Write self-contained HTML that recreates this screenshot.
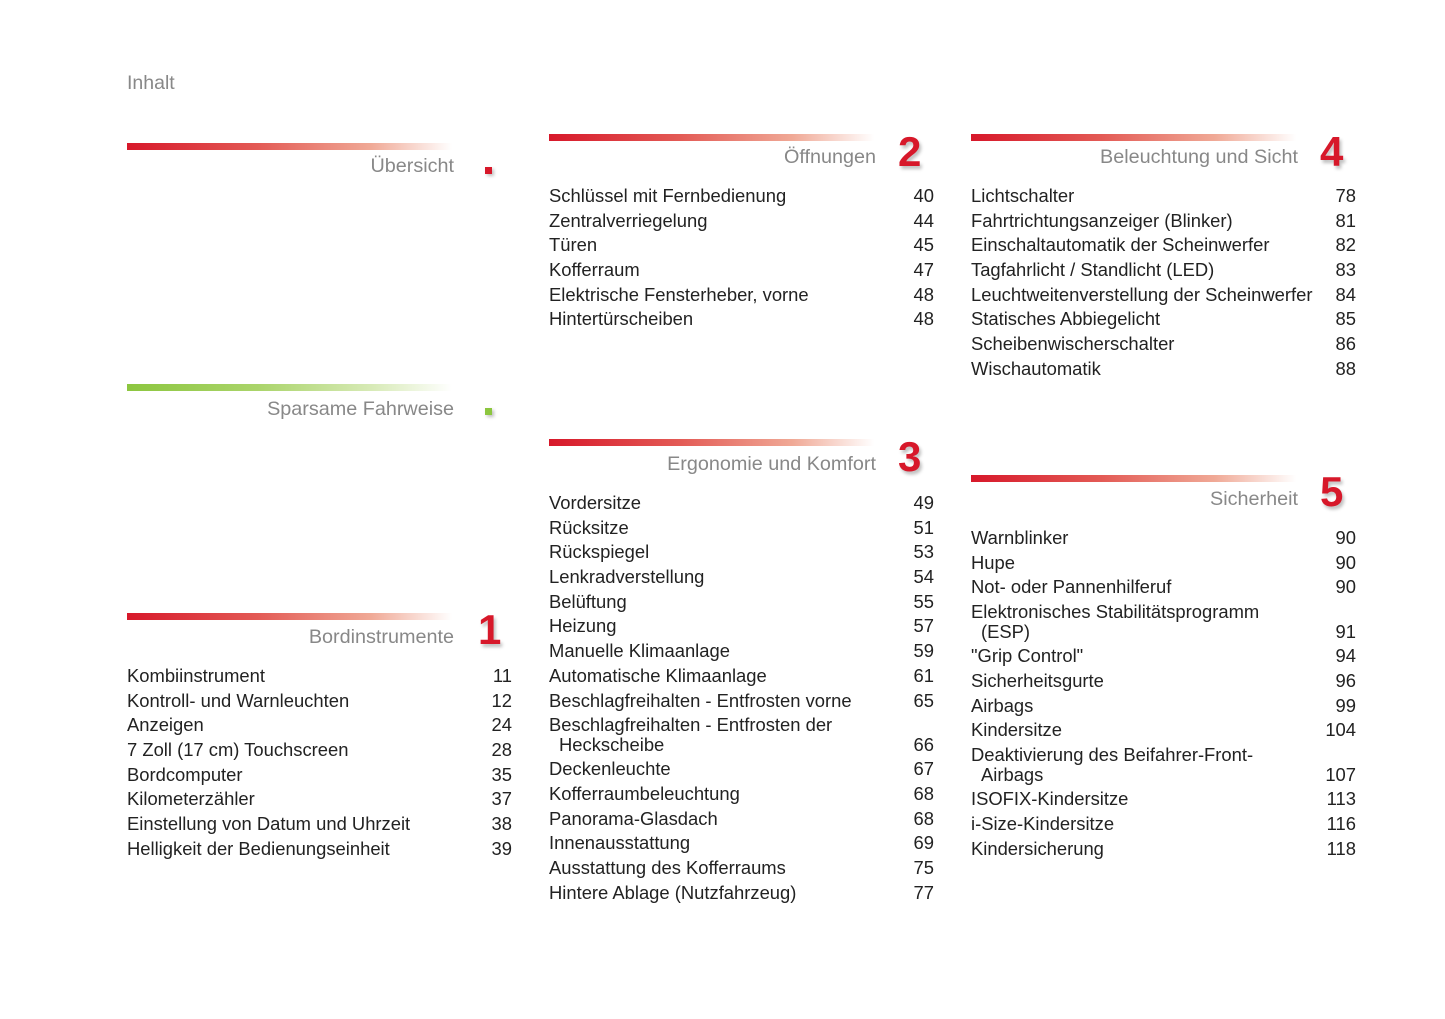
<!DOCTYPE html>
<html><head><meta charset="utf-8"><style>
body{margin:0;width:1445px;height:1019px;background:#fff;position:relative;font-family:"Liberation Sans",Arial,sans-serif;overflow:hidden}
.t{position:absolute;left:127px;top:72px;font-size:19.5px;color:#888}
.bar{position:absolute;height:7px;width:325px;background:linear-gradient(90deg,#d7182a 0%,#e35a55 40%,#f0a996 75%,rgba(255,255,255,0) 100%)}
.bar.g{background:linear-gradient(90deg,#8cc63f 0%,#aad46a 40%,#d7eab6 75%,rgba(255,255,255,0) 100%)}
.h{position:absolute;font-size:19.8px;color:#888;text-align:right;width:330px}
.n{position:absolute;font-size:42px;font-weight:bold;color:#d7182a;text-shadow:2px 3px 3px rgba(0,0,0,.25)}
.sq{position:absolute;width:7px;height:7px;box-shadow:2px 2px 3px rgba(0,0,0,.25)}
.list{position:absolute;width:385px;font-size:18.4px;color:#222}
.e{position:relative;line-height:19.5px;margin-bottom:5.2px;white-space:nowrap}
.e span{position:absolute;right:0;bottom:0}
.e i{font-style:normal;padding-left:10px}
</style></head><body>
<div class="t">Inhalt</div>

<div class="bar" style="left:127px;top:143px"></div>
<div class="h" style="left:124px;top:155px">Übersicht</div>
<div class="sq" style="left:485px;top:167px;background:#d7182a"></div>

<div class="bar g" style="left:127px;top:384px"></div>
<div class="h" style="left:124px;top:398px">Sparsame Fahrweise</div>
<div class="sq" style="left:485px;top:408px;background:#8cc63f"></div>

<div class="bar" style="left:127px;top:613px"></div>
<div class="h" style="left:124px;top:626px">Bordinstrumente</div>
<div class="n" style="left:478px;top:606px">1</div>
<div class="list" style="left:127px;top:666px">
<div class="e">Kombiinstrument<span>11</span></div>
<div class="e">Kontroll- und Warnleuchten<span>12</span></div>
<div class="e">Anzeigen<span>24</span></div>
<div class="e">7 Zoll (17 cm) Touchscreen<span>28</span></div>
<div class="e">Bordcomputer<span>35</span></div>
<div class="e">Kilometerzähler<span>37</span></div>
<div class="e">Einstellung von Datum und Uhrzeit<span>38</span></div>
<div class="e">Helligkeit der Bedienungseinheit<span>39</span></div>
</div>

<div class="bar" style="left:549px;top:134px"></div>
<div class="h" style="left:546px;top:146px">Öffnungen</div>
<div class="n" style="left:898px;top:128px">2</div>
<div class="list" style="left:549px;top:186px">
<div class="e">Schlüssel mit Fernbedienung<span>40</span></div>
<div class="e">Zentralverriegelung<span>44</span></div>
<div class="e">Türen<span>45</span></div>
<div class="e">Kofferraum<span>47</span></div>
<div class="e">Elektrische Fensterheber, vorne<span>48</span></div>
<div class="e">Hintertürscheiben<span>48</span></div>
</div>

<div class="bar" style="left:549px;top:439px"></div>
<div class="h" style="left:546px;top:453px">Ergonomie und Komfort</div>
<div class="n" style="left:898px;top:433px">3</div>
<div class="list" style="left:549px;top:493px">
<div class="e">Vordersitze<span>49</span></div>
<div class="e">Rücksitze<span>51</span></div>
<div class="e">Rückspiegel<span>53</span></div>
<div class="e">Lenkradverstellung<span>54</span></div>
<div class="e">Belüftung<span>55</span></div>
<div class="e">Heizung<span>57</span></div>
<div class="e">Manuelle Klimaanlage<span>59</span></div>
<div class="e">Automatische Klimaanlage<span>61</span></div>
<div class="e">Beschlagfreihalten - Entfrosten vorne<span>65</span></div>
<div class="e">Beschlagfreihalten - Entfrosten der<br><i>Heckscheibe</i><span>66</span></div>
<div class="e">Deckenleuchte<span>67</span></div>
<div class="e">Kofferraumbeleuchtung<span>68</span></div>
<div class="e">Panorama-Glasdach<span>68</span></div>
<div class="e">Innenausstattung<span>69</span></div>
<div class="e">Ausstattung des Kofferraums<span>75</span></div>
<div class="e">Hintere Ablage (Nutzfahrzeug)<span>77</span></div>
</div>

<div class="bar" style="left:971px;top:134px"></div>
<div class="h" style="left:968px;top:146px">Beleuchtung und Sicht</div>
<div class="n" style="left:1320px;top:128px">4</div>
<div class="list" style="left:971px;top:186px">
<div class="e">Lichtschalter<span>78</span></div>
<div class="e">Fahrtrichtungsanzeiger (Blinker)<span>81</span></div>
<div class="e">Einschaltautomatik der Scheinwerfer<span>82</span></div>
<div class="e">Tagfahrlicht / Standlicht (LED)<span>83</span></div>
<div class="e">Leuchtweitenverstellung der Scheinwerfer<span>84</span></div>
<div class="e">Statisches Abbiegelicht<span>85</span></div>
<div class="e">Scheibenwischerschalter<span>86</span></div>
<div class="e">Wischautomatik<span>88</span></div>
</div>

<div class="bar" style="left:971px;top:475px"></div>
<div class="h" style="left:968px;top:488px">Sicherheit</div>
<div class="n" style="left:1320px;top:468px">5</div>
<div class="list" style="left:971px;top:528px">
<div class="e">Warnblinker<span>90</span></div>
<div class="e">Hupe<span>90</span></div>
<div class="e">Not- oder Pannenhilferuf<span>90</span></div>
<div class="e">Elektronisches Stabilitätsprogramm<br><i>(ESP)</i><span>91</span></div>
<div class="e">"Grip Control"<span>94</span></div>
<div class="e">Sicherheitsgurte<span>96</span></div>
<div class="e">Airbags<span>99</span></div>
<div class="e">Kindersitze<span>104</span></div>
<div class="e">Deaktivierung des Beifahrer-Front-<br><i>Airbags</i><span>107</span></div>
<div class="e">ISOFIX-Kindersitze<span>113</span></div>
<div class="e">i-Size-Kindersitze<span>116</span></div>
<div class="e">Kindersicherung<span>118</span></div>
</div>
</body></html>
